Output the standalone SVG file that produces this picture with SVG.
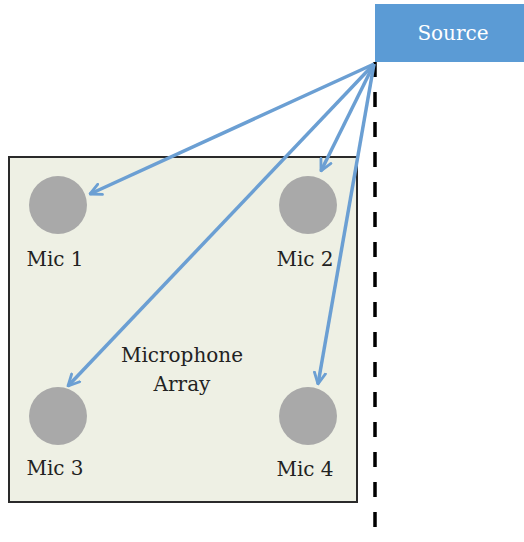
<svg xmlns="http://www.w3.org/2000/svg" width="524" height="542" viewBox="0 0 524 542">
<defs>
<style>
.lbl{font-family:"DejaVu Serif","Liberation Serif",serif;font-size:20px;fill:#222;text-anchor:middle}
.mic{fill:#a9a9a9}
.arr{stroke:#6b9fd3;stroke-width:3.5;fill:none;marker-end:url(#ah)}
</style>
<marker id="ah" viewBox="0 0 10 10" refX="9" refY="5" markerWidth="4" markerHeight="4" orient="auto" markerUnits="strokeWidth">
<polyline points="1,1 9,5 1,9" fill="none" stroke="#6b9fd3" stroke-width="2" stroke-linecap="round" stroke-linejoin="round"/>
</marker>
</defs>
<rect width="524" height="542" fill="#fff"/>
<g id="array">
<rect x="9" y="157" width="348" height="345" fill="#eef0e4" stroke="#2a2a2a" stroke-width="2"/>
<text class="lbl" x="182" y="362" font-size="21">Microphone</text>
<text class="lbl" x="182" y="391" font-size="21">Array</text>
</g>
<g id="axis">
<line x1="375" y1="62" x2="375" y2="542" stroke="#000" stroke-width="3.5" stroke-dasharray="15 15"/>
</g>
<g id="source">
<rect x="375" y="4" width="149" height="58" fill="#5b9bd5"/>
<text x="453" y="40" font-family="DejaVu Serif, Liberation Serif, serif" font-size="20" fill="#fff" text-anchor="middle">Source</text>
</g>
<g id="mic1"><circle class="mic" cx="58" cy="205" r="29"/><text class="lbl" x="55" y="266">Mic 1</text></g>
<g id="mic2"><circle class="mic" cx="308" cy="205" r="29"/><text class="lbl" x="305" y="266">Mic 2</text></g>
<g id="mic3"><circle class="mic" cx="58" cy="416" r="29"/><text class="lbl" x="55" y="475">Mic 3</text></g>
<g id="mic4"><circle class="mic" cx="308" cy="416" r="29"/><text class="lbl" x="305" y="476">Mic 4</text></g>
<g id="connectors">
<line class="arr" x1="374" y1="64" x2="90" y2="194"/>
<line class="arr" x1="374" y1="64" x2="321" y2="171"/>
<line class="arr" x1="374" y1="64" x2="68" y2="386"/>
<line class="arr" x1="374" y1="64" x2="318" y2="384"/>
</g>
</svg>
